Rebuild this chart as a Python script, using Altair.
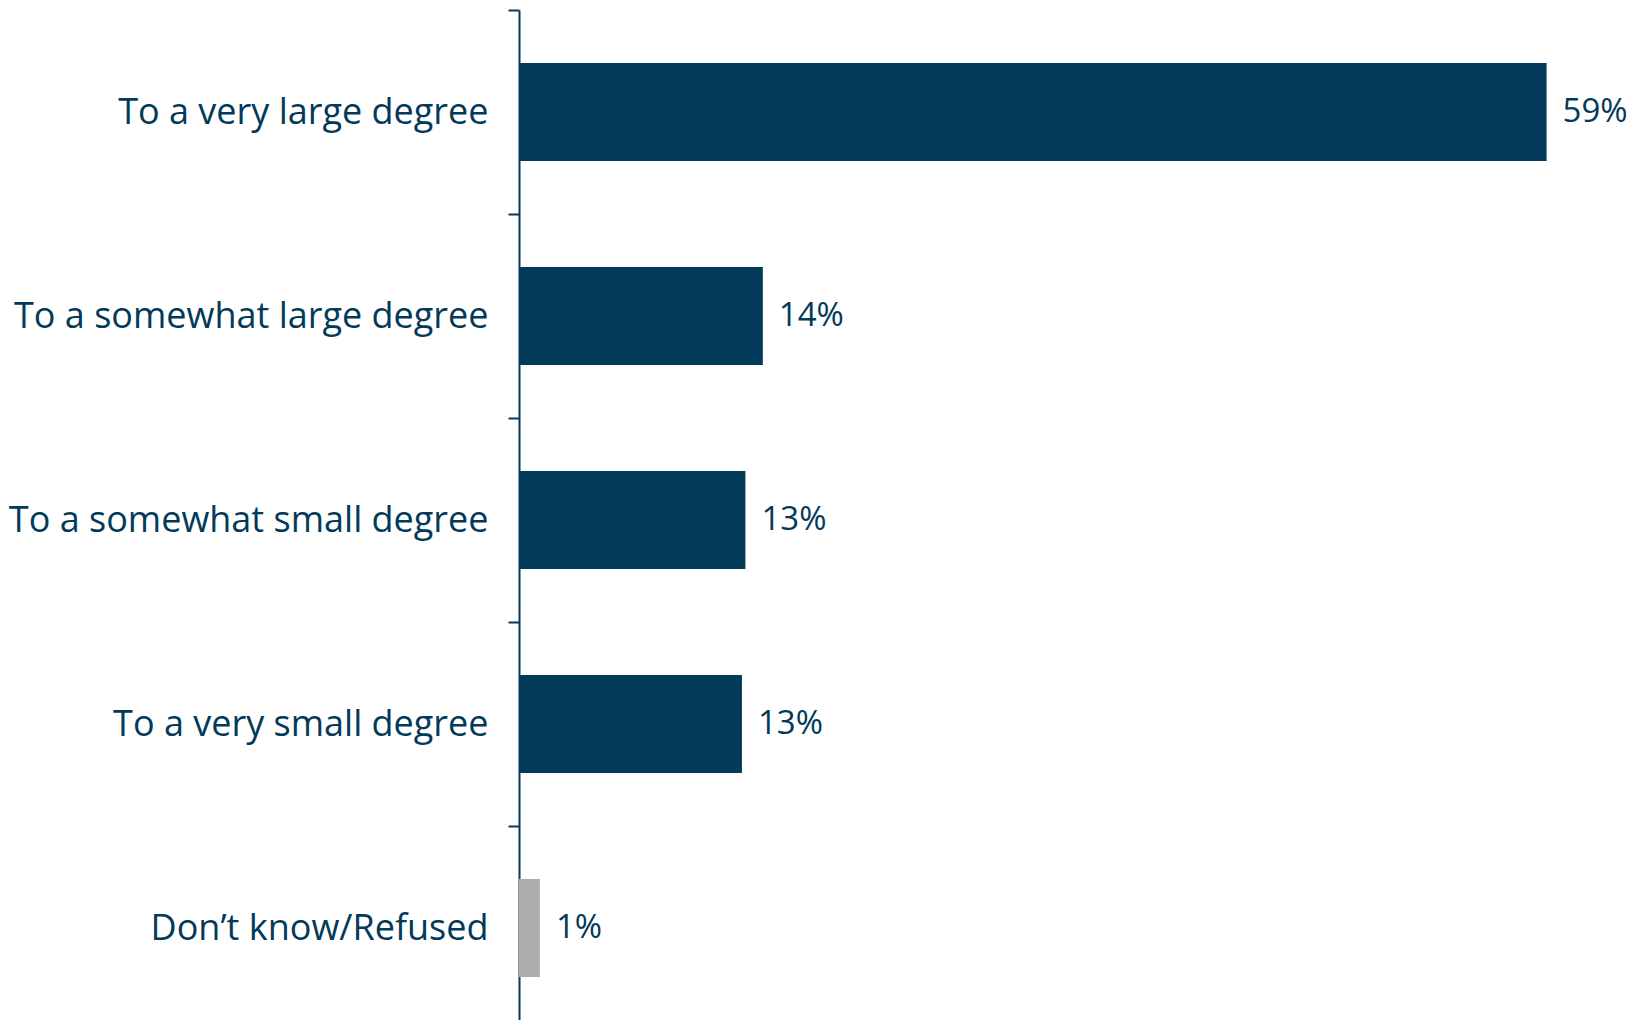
import altair as alt
import pandas as pd

categories = ["To a very large degree", "To a somewhat large degree",
              "To a somewhat small degree", "To a very small degree",
              "Don\u2019t know/Refused"]
values = [59.0, 14.0, 13.0, 12.8, 1.2]
labels = ["59%", "14%", "13%", "13%", "1%"]
colors = ["#033A5A", "#033A5A", "#033A5A", "#033A5A", "#ADADAD"]

df = pd.DataFrame({"cat": categories, "val": values, "lab": labels, "col": colors})

FONT = "Open Sans"
NAVY = "#033A5A"

y = alt.Y("cat:N", sort=categories, title=None,
          scale=alt.Scale(paddingInner=0, paddingOuter=0),
          axis=alt.Axis(tickBand="extent", tickSize=11, labelPadding=20,
                        labelFont=FONT, labelFontSize=36, labelColor=NAVY,
                        domainColor=NAVY, tickColor=NAVY, domainWidth=2, tickWidth=2,
                        labelLimit=700))
x = alt.X("val:Q", title=None, axis=None, scale=alt.Scale(domain=[0, 60], nice=False))

bars = alt.Chart(df).mark_bar(size=98).encode(x=x, y=y, color=alt.Color("col:N", scale=None))
text = alt.Chart(df).mark_text(align="left", baseline="middle", dx=16,
                               font=FONT, fontSize=33, color=NAVY).encode(
    x=x, y=y, text="lab:N")

chart = (bars + text).properties(
    width=1045, height=1020,
    padding={"left": 511, "top": 2, "right": 65, "bottom": -10},
    autosize="none",
).configure_view(stroke=None)

chart.save("out.html", embed_options={"renderer": "svg", "actions": False})
